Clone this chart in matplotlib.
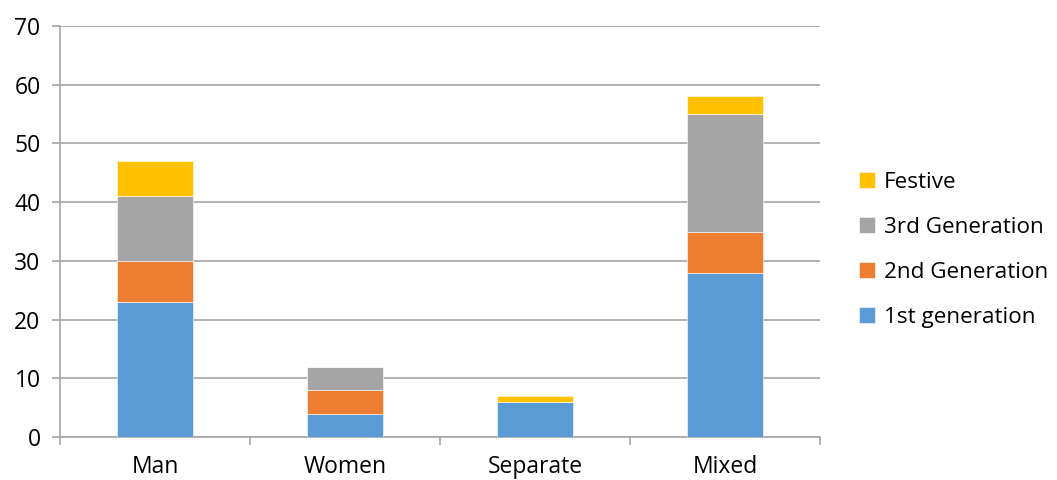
import numpy as np
import matplotlib.pyplot as plt

# data
categories = ['Man', 'Women', 'Separate', 'Mixed']
first_gen = [23, 4, 6, 28]
second_gen = [7, 4, 0, 7]
third_gen = [11, 4, 0, 20]
festive = [6, 0, 1, 3]

series_names = ['1st generation', '2nd Generation', '3rd Generation', 'Festive']
colors = ['#5B9BD5', '#ED7D31', '#A5A5A5', '#FFC000']

plt.rcParams['font.family'] = ['Open Sans', 'DejaVu Sans']

fig = plt.figure(figsize=(10.57, 4.8), dpi=100)
ax = fig.add_axes([0.0568, 0.0896, 0.7190, 0.8562])

x = np.arange(len(categories))
bottom = np.zeros(len(categories))
handles = []
for vals, name, col in zip([first_gen, second_gen, third_gen, festive], series_names, colors):
    vals = np.array(vals, dtype=float)
    b = ax.bar(x, vals, width=0.4, bottom=bottom, color=col, label=name,
               edgecolor='white', linewidth=0.4, zorder=3)
    handles.append(b)
    bottom += vals

ax.set_xlim(-0.5, len(categories) - 0.5)
ax.set_ylim(0, 70)
ax.set_yticks(range(0, 71, 10))
ax.yaxis.grid(True, color='#A6A6A6', linewidth=1.2, zorder=0)
ax.set_axisbelow(True)

ax.set_xticks(x)
ax.set_xticklabels(categories)
ax.set_xticks(np.arange(-0.5, len(categories)), minor=True)
ax.tick_params(axis='x', which='major', length=0, pad=13, labelsize=16.5)
ax.tick_params(axis='x', which='minor', length=6, color='#A6A6A6', width=1.2)
ax.tick_params(axis='y', length=6, color='#A6A6A6', width=1.2, labelsize=16.5, pad=8)

for s in ['top', 'right']:
    ax.spines[s].set_visible(False)
for s in ['left', 'bottom']:
    ax.spines[s].set_color('#A6A6A6')
    ax.spines[s].set_linewidth(1.2)

leg = ax.legend(handles[::-1], series_names[::-1], loc='center left',
                bbox_to_anchor=(1.025, 0.455), frameon=False, fontsize=16.2,
                handlelength=0.7, handleheight=0.7, handletextpad=0.4,
                labelspacing=1.07)

plt.savefig('out.png', dpi=100)
